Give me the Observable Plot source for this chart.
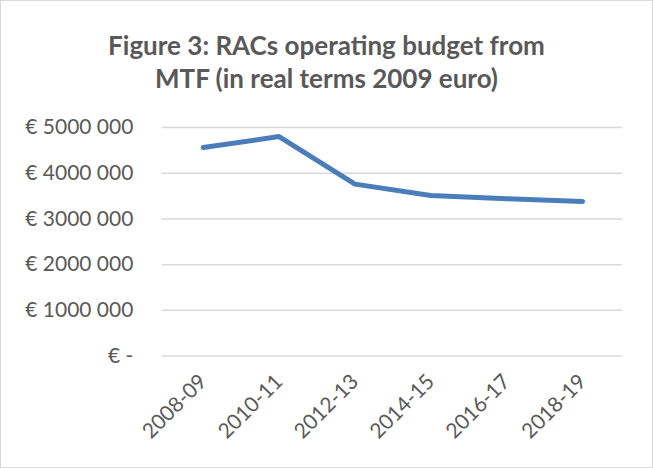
<!DOCTYPE html>
<html>
<head>
<meta charset="utf-8">
<script src="https://cdn.jsdelivr.net/npm/d3@7"></script>
<script src="https://cdn.jsdelivr.net/npm/@observablehq/plot@0.6"></script>
<style>
  html, body { margin: 0; padding: 0; background: #fff; }
  #frame {
    position: absolute; left: 0; top: 0; width: 653px; height: 468px;
    box-sizing: border-box; border: 1px solid #d9d9d9; background: #fff;
    font-family: Lato, "Open Sans", sans-serif;
  }
  #title {
    position: absolute; left: 0; top: 28px; width: 651px;
    text-align: center; font-weight: bold; font-size: 26px; line-height: 33px;
    color: #595959;
  }
  #chart { position: absolute; left: -1px; top: 93px; }
</style>
</head>
<body>
<div id="frame">
  <div id="title">Figure 3: RACs operating budget from<br>MTF (in real terms 2009 euro)</div>
  <div id="chart"></div>
</div>
<script>
const categories = ["2008-09", "2010-11", "2012-13", "2014-15", "2016-17", "2018-19"];
const budget = [4560000, 4800000, 3760000, 3510000, 3440000, 3380000];
const yTicks = [0, 1000000, 2000000, 3000000, 4000000, 5000000];
const yTickLabels = ["€ -", "€ 1000 000", "€ 2000 000", "€ 3000 000", "€ 4000 000", "€ 5000 000"];

const data = categories.map((c, i) => ({period: c, value: budget[i]}));

const chart = Plot.plot({
  width: 653,
  height: 372,
  marginTop: 33,
  marginBottom: 110,
  marginLeft: 162,
  marginRight: 30,
  style: {fontFamily: "Lato, 'Open Sans', sans-serif", fontSize: "21px", color: "#595959", background: "transparent"},
  x: {type: "point", domain: categories, padding: 0.5},
  y: {domain: [0, 5000000]},
  marks: [
    Plot.gridY(yTicks, {stroke: "#d9d9d9", strokeOpacity: 1, strokeWidth: 1.5}),
    Plot.axisY(yTicks, {tickSize: 0, tickPadding: 29, tickFormat: (d) => yTickLabels[yTicks.indexOf(d)], label: null, fill: "#595959"}),
    Plot.axisX(categories, {tickSize: 0, tickPadding: 22, tickRotate: -45, label: null, fill: "#595959"}),
    Plot.line(data, {x: "period", y: "value", stroke: "#4a7ebb", strokeWidth: 5, strokeLinecap: "round", strokeLinejoin: "round"})
  ]
});
document.getElementById("chart").appendChild(chart);
</script>
</body>
</html>
